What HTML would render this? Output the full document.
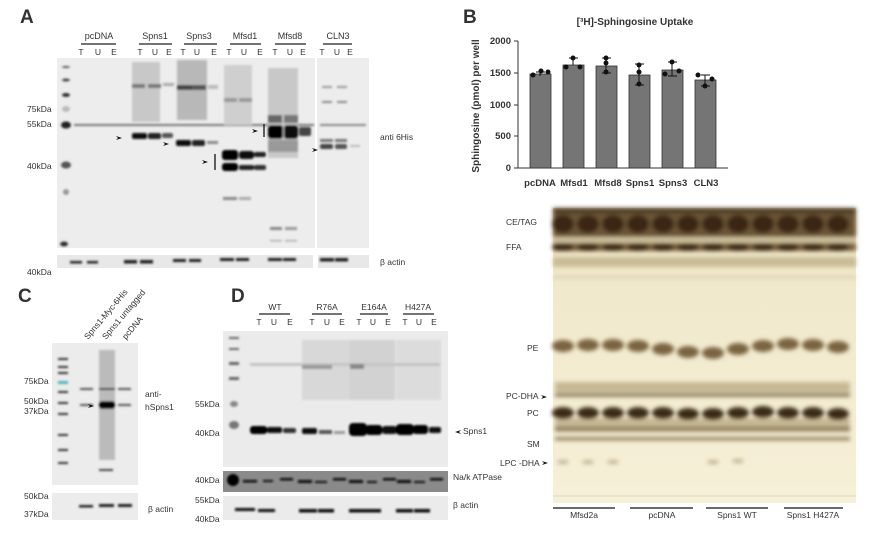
<!DOCTYPE html>
<html><head><meta charset="utf-8"><style>
html,body{margin:0;padding:0;background:#fff}
svg{display:block}
text{font-family:"Liberation Sans",sans-serif;fill:#333}
</style></head><body>
<svg width="870" height="534" viewBox="0 0 870 534" xmlns="http://www.w3.org/2000/svg">
<defs>
<filter id="b1" x="-50%" y="-50%" width="200%" height="200%"><feGaussianBlur stdDeviation="1"/></filter>
<filter id="b2" x="-50%" y="-50%" width="200%" height="200%"><feGaussianBlur stdDeviation="2"/></filter>
<linearGradient id="tlc" x1="0" y1="0" x2="0" y2="1">
<stop offset="0" stop-color="#e6dcbc"/><stop offset="0.2" stop-color="#f0e8ca"/><stop offset="1" stop-color="#f6f0d8"/></linearGradient>
</defs>

<!-- ===== Panel A ===== -->
<text x="20" y="23" font-size="19" font-weight="bold" fill="#111">A</text>
<g font-size="9" text-anchor="middle">
<text x="99" y="39">pcDNA</text><text x="155" y="39">Spns1</text><text x="199" y="39">Spns3</text>
<text x="245" y="39">Mfsd1</text><text x="290" y="39">Mfsd8</text><text x="338" y="39">CLN3</text>
</g>
<g stroke="#222" stroke-width="1.3">
<line x1="81" y1="44" x2="116" y2="44"/><line x1="139" y1="44" x2="172" y2="44"/><line x1="184" y1="44" x2="217" y2="44"/>
<line x1="230" y1="44" x2="261" y2="44"/><line x1="275" y1="44" x2="306" y2="44"/><line x1="323" y1="44" x2="352" y2="44"/>
</g>
<g font-size="8.5" text-anchor="middle">
<text x="81" y="55">T</text><text x="98" y="55">U</text><text x="114" y="55">E</text>
<text x="140" y="55">T</text><text x="155" y="55">U</text><text x="169" y="55">E</text>
<text x="183" y="55">T</text><text x="197" y="55">U</text><text x="214" y="55">E</text>
<text x="229" y="55">T</text><text x="244" y="55">U</text><text x="260" y="55">E</text>
<text x="275" y="55">T</text><text x="290" y="55">U</text><text x="303" y="55">E</text>
<text x="322" y="55">T</text><text x="337" y="55">U</text><text x="350" y="55">E</text>
</g>
<rect x="57" y="58" width="312" height="190" fill="#ededed"/>
<rect x="315" y="58" width="2" height="190" fill="#fff"/>
<g filter="url(#b1)">
<ellipse cx="66" cy="67" rx="4" ry="1" fill="#555"/><ellipse cx="66" cy="80" rx="4" ry="1.5" fill="#444"/>
<ellipse cx="66" cy="95" rx="4" ry="2" fill="#333"/><ellipse cx="66" cy="109" rx="4" ry="3" fill="#bbb"/>
<ellipse cx="66" cy="125" rx="5" ry="3.5" fill="#222"/><ellipse cx="66" cy="165" rx="5" ry="3.5" fill="#555"/>
<ellipse cx="66" cy="192" rx="3" ry="3" fill="#999"/><ellipse cx="64" cy="244" rx="4" ry="2.5" fill="#333"/>
<rect x="74" y="124" width="240" height="2" fill="#777"/><rect x="320" y="124" width="46" height="2" fill="#888"/>
<rect x="132" y="62" width="28" height="60" fill="#c8c8c8"/><rect x="177" y="60" width="30" height="60" fill="#b8b8b8"/>
<rect x="224" y="65" width="28" height="60" fill="#cfcfcf"/><rect x="268" y="68" width="30" height="90" fill="#c8c8c8"/>
<rect x="132" y="84" width="13" height="4" fill="#777"/><rect x="148" y="84" width="13" height="4" fill="#777"/><rect x="163" y="83" width="11" height="3" fill="#aaa"/>
<rect x="177" y="85" width="15" height="5" fill="#444"/><rect x="192" y="85" width="14" height="5" fill="#555"/><rect x="208" y="85" width="10" height="4" fill="#bbb"/>
<rect x="224" y="98" width="13" height="4" fill="#999"/><rect x="239" y="98" width="13" height="4" fill="#999"/>
<rect x="268" y="115" width="14" height="8" fill="#666"/><rect x="284" y="115" width="14" height="8" fill="#777"/>
<rect x="322" y="86" width="10" height="2" fill="#999"/><rect x="337" y="86" width="10" height="2" fill="#999"/>
<rect x="322" y="101" width="10" height="2" fill="#888"/><rect x="337" y="101" width="10" height="2" fill="#888"/>
<rect x="132" y="133" width="15" height="6" rx="2" fill="#111"/><rect x="148" y="133" width="13" height="6" rx="2" fill="#222"/><rect x="162" y="133" width="11" height="5" rx="2" fill="#555"/>
<rect x="176" y="140" width="15" height="6" rx="2" fill="#111"/><rect x="192" y="140" width="13" height="6" rx="2" fill="#222"/><rect x="207" y="141" width="11" height="3" fill="#888"/>
<rect x="222" y="150" width="16" height="10" rx="3" fill="#000"/><rect x="239" y="151" width="15" height="8" rx="3" fill="#111"/><rect x="254" y="152" width="12" height="5" rx="2" fill="#222"/>
<rect x="222" y="163" width="16" height="8" rx="3" fill="#000"/><rect x="239" y="165" width="15" height="5" rx="2" fill="#222"/><rect x="254" y="165" width="12" height="5" rx="2" fill="#333"/>
<rect x="223" y="197" width="14" height="3" fill="#888"/><rect x="239" y="197" width="12" height="3" fill="#aaa"/>
<rect x="268" y="125" width="15" height="14" rx="3" fill="#000"/><rect x="284" y="125" width="14" height="14" rx="3" fill="#111"/><rect x="299" y="127" width="12" height="9" rx="2" fill="#444"/>
<rect x="268" y="140" width="30" height="12" fill="#999"/>
<rect x="270" y="227" width="12" height="3" fill="#888"/><rect x="285" y="227" width="12" height="3" fill="#999"/>
<rect x="270" y="240" width="12" height="1.5" fill="#aaa"/><rect x="285" y="240" width="12" height="1.5" fill="#aaa"/>
<rect x="320" y="139" width="13" height="3" fill="#777"/><rect x="335" y="139" width="12" height="3" fill="#777"/>
<rect x="320" y="144" width="13" height="5" rx="2" fill="#444"/><rect x="335" y="144" width="12" height="5" rx="2" fill="#555"/><rect x="350" y="145" width="10" height="2" fill="#bbb"/>
</g>
<g fill="#111">
<path d="M116 136 l6 2 l-6 2 l2 -2z"/><path d="M163 142 l6 2 l-6 2 l2 -2z"/><path d="M202 160 l6 2 l-6 2 l2 -2z"/>
<path d="M252 129 l6 2 l-6 2 l2 -2z"/><path d="M312 148 l6 2 l-6 2 l2 -2z"/>
</g>
<line x1="215" y1="154" x2="215" y2="170" stroke="#111" stroke-width="1.3"/>
<line x1="264" y1="124" x2="264" y2="137" stroke="#111" stroke-width="1.3"/>
<g font-size="8.5"><text x="27" y="112">75kDa</text><text x="27" y="127">55kDa</text><text x="27" y="169">40kDa</text>
<text x="380" y="140">anti 6His</text><text x="380" y="265">β actin</text><text x="27" y="275">40kDa</text></g>
<rect x="57" y="255" width="256" height="13" fill="#e8e8e8"/><rect x="318" y="255" width="51" height="13" fill="#e8e8e8"/>
<g filter="url(#b1)" fill="#222">
<rect x="70" y="261" width="12" height="2.5"/><rect x="87" y="261" width="11" height="2.5"/>
<rect x="124" y="260" width="13" height="3.5"/><rect x="140" y="260" width="13" height="3.5"/>
<rect x="173" y="259" width="13" height="3"/><rect x="189" y="259" width="12" height="3"/>
<rect x="220" y="258" width="14" height="3"/><rect x="236" y="258" width="13" height="3"/>
<rect x="268" y="258" width="14" height="3"/><rect x="283" y="258" width="13" height="3"/>
<rect x="320" y="258" width="14" height="3.5"/><rect x="335" y="258" width="13" height="3.5"/>
</g>

<!-- ===== Panel B ===== -->
<text x="463" y="23" font-size="19" font-weight="bold" fill="#111">B</text>
<text x="635" y="25" font-size="10" font-weight="bold" text-anchor="middle" fill="#222">[³H]-Sphingosine Uptake</text>
<text transform="translate(479,106) rotate(-90)" font-size="10" font-weight="bold" text-anchor="middle" fill="#222">Sphingosine (pmol) per well</text>
<g stroke="#333" stroke-width="1">
<line x1="518" y1="41" x2="518" y2="168"/><line x1="518" y1="168" x2="728" y2="168"/>
<line x1="514" y1="41" x2="518" y2="41"/><line x1="514" y1="73" x2="518" y2="73"/><line x1="514" y1="105" x2="518" y2="105"/><line x1="514" y1="136" x2="518" y2="136"/><line x1="514" y1="168" x2="518" y2="168"/>
</g>
<g font-size="9.5" font-weight="bold" text-anchor="end" fill="#222">
<text x="511" y="44">2000</text><text x="511" y="76">1500</text><text x="511" y="108">1000</text><text x="511" y="139">500</text><text x="511" y="171">0</text></g>
<g fill="#757575" stroke="#333" stroke-width="0.8">
<rect x="530" y="74" width="21" height="94"/><rect x="563" y="65" width="21" height="103"/><rect x="596" y="66" width="21" height="102"/>
<rect x="629" y="75" width="21" height="93"/><rect x="662" y="70" width="21" height="98"/><rect x="695" y="80" width="21" height="88"/>
</g>
<g stroke="#111" stroke-width="1">
<line x1="540" y1="72" x2="540" y2="76"/><line x1="536" y1="72" x2="545" y2="72"/>
<line x1="573" y1="58" x2="573" y2="65"/><line x1="569" y1="58" x2="578" y2="58"/>
<line x1="606" y1="58" x2="606" y2="73"/><line x1="602" y1="58" x2="611" y2="58"/><line x1="602" y1="73" x2="611" y2="73"/>
<line x1="639" y1="64" x2="639" y2="85"/><line x1="635" y1="64" x2="644" y2="64"/><line x1="635" y1="85" x2="644" y2="85"/>
<line x1="672" y1="62" x2="672" y2="76"/><line x1="668" y1="62" x2="677" y2="62"/><line x1="668" y1="76" x2="677" y2="76"/>
<line x1="705" y1="75" x2="705" y2="86"/><line x1="701" y1="75" x2="710" y2="75"/><line x1="701" y1="86" x2="710" y2="86"/>
</g>
<g fill="#111">
<circle cx="533" cy="75" r="2.5"/><circle cx="541" cy="71" r="2.5"/><circle cx="548" cy="72" r="2.5"/>
<circle cx="566" cy="67" r="2.5"/><circle cx="573" cy="58" r="2.5"/><circle cx="580" cy="67" r="2.5"/>
<circle cx="606" cy="58" r="2.5"/><circle cx="606" cy="63" r="2.5"/><circle cx="606" cy="72" r="2.5"/>
<circle cx="639" cy="65" r="2.5"/><circle cx="639" cy="72" r="2.5"/><circle cx="639" cy="84" r="2.5"/>
<circle cx="665" cy="74" r="2.5"/><circle cx="672" cy="62" r="2.5"/><circle cx="679" cy="71" r="2.5"/>
<circle cx="698" cy="75" r="2.5"/><circle cx="712" cy="79" r="2.5"/><circle cx="705" cy="86" r="2.5"/>
</g>
<g font-size="9.5" font-weight="bold" text-anchor="middle" fill="#222">
<text x="540" y="186">pcDNA</text><text x="574" y="186">Mfsd1</text><text x="608" y="186">Mfsd8</text>
<text x="640" y="186">Spns1</text><text x="673" y="186">Spns3</text><text x="706" y="186">CLN3</text></g>

<!-- ===== Panel C ===== -->
<text x="18" y="302" font-size="19" font-weight="bold" fill="#111">C</text>
<g font-size="8.5">
<text transform="translate(88,340) rotate(-50)">Spns1-Myc-6His</text>
<text transform="translate(106,340) rotate(-50)">Spns1 untagged</text>
<text transform="translate(126,340) rotate(-50)">pcDNA</text>
<text x="24" y="384">75kDa</text><text x="24" y="404">50kDa</text><text x="24" y="414">37kDa</text>
<text x="145" y="397">anti-</text><text x="145" y="410">hSpns1</text>
<text x="24" y="499">50kDa</text><text x="24" y="517">37kDa</text><text x="148" y="512">β actin</text>
</g>
<rect x="52" y="343" width="86" height="142" fill="#ececec"/>
<g filter="url(#b1)">
<g fill="#333"><rect x="58" y="358" width="10" height="2"/><rect x="58" y="366" width="10" height="2"/><rect x="58" y="372" width="10" height="2"/><rect x="58" y="391" width="10" height="2"/><rect x="58" y="402" width="10" height="2"/><rect x="58" y="413" width="10" height="2"/><rect x="58" y="434" width="10" height="2"/><rect x="58" y="449" width="10" height="2"/><rect x="58" y="462" width="10" height="2"/></g>
<rect x="58" y="381" width="10" height="3" fill="#4bb8c8"/>
<rect x="99" y="350" width="16" height="110" fill="#bbb"/>
<rect x="80" y="388" width="13" height="2" fill="#555"/><rect x="99" y="388" width="16" height="2" fill="#333"/><rect x="118" y="388" width="13" height="2" fill="#555"/>
<rect x="80" y="404" width="13" height="2" fill="#555"/><rect x="118" y="404" width="13" height="2" fill="#555"/>
<rect x="99" y="401" width="16" height="8" rx="3" fill="#000"/>
<rect x="99" y="469" width="14" height="2" fill="#444"/>
</g>
<path d="M88 404 l6 2 l-6 2 l2 -2z" fill="#111"/>
<rect x="52" y="493" width="86" height="27" fill="#ececec"/>
<g fill="#222" filter="url(#b1)"><rect x="79" y="505" width="14" height="2.5"/><rect x="99" y="504" width="15" height="3"/><rect x="118" y="504" width="14" height="3"/></g>

<!-- ===== Panel D ===== -->
<text x="231" y="302" font-size="19" font-weight="bold" fill="#111">D</text>
<g font-size="8.5" text-anchor="middle">
<text x="275" y="310">WT</text><text x="327" y="310">R76A</text><text x="374" y="310">E164A</text><text x="418" y="310">H427A</text></g>
<g stroke="#222" stroke-width="1.3"><line x1="259" y1="314" x2="290" y2="314"/><line x1="312" y1="314" x2="342" y2="314"/><line x1="360" y1="314" x2="388" y2="314"/><line x1="403" y1="314" x2="434" y2="314"/></g>
<g font-size="8.5" text-anchor="middle">
<text x="259" y="325">T</text><text x="274" y="325">U</text><text x="290" y="325">E</text>
<text x="312" y="325">T</text><text x="327" y="325">U</text><text x="342" y="325">E</text>
<text x="359" y="325">T</text><text x="373" y="325">U</text><text x="388" y="325">E</text>
<text x="405" y="325">T</text><text x="419" y="325">U</text><text x="434" y="325">E</text></g>
<rect x="223" y="331" width="225" height="136" fill="#ebebeb"/>
<g filter="url(#b1)">
<g fill="#666"><rect x="229" y="337" width="10" height="2"/><rect x="229" y="348" width="10" height="2"/><rect x="229" y="362" width="10" height="3"/><rect x="229" y="377" width="10" height="3"/></g>
<ellipse cx="234" cy="404" rx="4" ry="3" fill="#888"/><ellipse cx="234" cy="425" rx="5" ry="4" fill="#777"/>
<rect x="302" y="340" width="48" height="60" fill="#d8d8d8"/><rect x="350" y="340" width="45" height="60" fill="#d2d2d2"/><rect x="396" y="340" width="45" height="60" fill="#dcdcdc"/>
<rect x="250" y="363" width="190" height="3" fill="#c4c4c4"/>
<rect x="302" y="365" width="30" height="4" fill="#999"/><rect x="350" y="364" width="14" height="5" fill="#888"/>
<rect x="250" y="426" width="17" height="8" rx="3" fill="#000"/><rect x="267" y="427" width="15" height="6" rx="2" fill="#111"/><rect x="283" y="428" width="13" height="5" rx="2" fill="#333"/>
<rect x="302" y="428" width="15" height="6" rx="2" fill="#111"/><rect x="319" y="430" width="13" height="4" fill="#555"/><rect x="334" y="431" width="11" height="3" fill="#999"/>
<rect x="349" y="423" width="18" height="13" rx="4" fill="#000"/><rect x="366" y="425" width="16" height="10" rx="3" fill="#000"/><rect x="382" y="426" width="15" height="8" rx="3" fill="#111"/>
<rect x="396" y="424" width="18" height="11" rx="4" fill="#000"/><rect x="413" y="425" width="15" height="9" rx="3" fill="#000"/><rect x="429" y="427" width="12" height="6" rx="2" fill="#111"/>
</g>
<path d="M461 430 l-6 2 l6 2 l-2 -2z" fill="#111"/>
<g font-size="8.5"><text x="463" y="434">Spns1</text><text x="195" y="407">55kDa</text><text x="195" y="436">40kDa</text>
<text x="195" y="483">40kDa</text><text x="453" y="480">Na/k ATPase</text>
<text x="195" y="503">55kDa</text><text x="195" y="522">40kDa</text><text x="453" y="508">β actin</text></g>
<rect x="223" y="471" width="225" height="21" fill="#8a8a8a"/>
<g filter="url(#b1)" fill="#111">
<ellipse cx="233" cy="480" rx="6" ry="6" fill="#000"/>
<rect x="243" y="480" width="14" height="2.5"/><rect x="263" y="480" width="10" height="2"/><rect x="280" y="478" width="13" height="2.5"/>
<rect x="298" y="480" width="14" height="3"/><rect x="315" y="481" width="12" height="2"/><rect x="333" y="478" width="13" height="2.5"/>
<rect x="349" y="480" width="14" height="3"/><rect x="367" y="481" width="10" height="2"/><rect x="383" y="478" width="13" height="2.5"/>
<rect x="397" y="480" width="14" height="3"/><rect x="414" y="481" width="11" height="2"/><rect x="430" y="478" width="13" height="2.5"/>
</g>
<rect x="223" y="496" width="225" height="24" fill="#ebebeb"/>
<g filter="url(#b1)" fill="#111">
<rect x="235" y="508" width="20" height="3"/><rect x="258" y="509" width="17" height="3"/>
<rect x="299" y="509" width="18" height="3.5"/><rect x="318" y="509" width="16" height="3.5"/>
<rect x="349" y="509" width="17" height="3.5"/><rect x="366" y="509" width="15" height="3.5"/>
<rect x="396" y="509" width="17" height="3.5"/><rect x="414" y="509" width="16" height="3.5"/>
</g>

<!-- ===== Panel E ===== -->
<text x="682" y="225" font-size="19" font-weight="bold" fill="#111">E</text>
<rect x="553" y="208" width="303" height="295" fill="url(#tlc)"/>
<g filter="url(#b2)">
<rect x="553" y="208" width="303" height="8" fill="#4a3820"/>
<rect x="553" y="213" width="303" height="24" fill="#6a5535"/>
<g fill="#3a2812">
<ellipse cx="563" cy="224" rx="11" ry="9"/><ellipse cx="588" cy="224" rx="11" ry="9"/><ellipse cx="613" cy="224" rx="11" ry="9"/>
<ellipse cx="638" cy="224" rx="11" ry="9"/><ellipse cx="663" cy="224" rx="11" ry="9"/><ellipse cx="688" cy="224" rx="11" ry="9"/>
<ellipse cx="713" cy="224" rx="11" ry="9"/><ellipse cx="738" cy="224" rx="11" ry="9"/><ellipse cx="763" cy="224" rx="11" ry="9"/>
<ellipse cx="788" cy="224" rx="11" ry="9"/><ellipse cx="813" cy="224" rx="11" ry="9"/><ellipse cx="838" cy="224" rx="11" ry="9"/>
</g>
<rect x="553" y="238" width="303" height="4" fill="#c8b890"/>
<rect x="553" y="243" width="303" height="8" fill="#7a6440"/>
<g fill="#3e2c14">
<ellipse cx="563" cy="247" rx="11" ry="4"/><ellipse cx="588" cy="247" rx="11" ry="4"/><ellipse cx="613" cy="247" rx="11" ry="4"/>
<ellipse cx="638" cy="247" rx="11" ry="4"/><ellipse cx="663" cy="247" rx="11" ry="4"/><ellipse cx="688" cy="247" rx="11" ry="4"/>
<ellipse cx="713" cy="247" rx="11" ry="4"/><ellipse cx="738" cy="247" rx="11" ry="4"/><ellipse cx="763" cy="247" rx="11" ry="4"/>
<ellipse cx="788" cy="247" rx="11" ry="4"/><ellipse cx="813" cy="247" rx="11" ry="4"/><ellipse cx="838" cy="247" rx="11" ry="4"/>
</g>
<rect x="553" y="257" width="303" height="10" fill="#c0b088" opacity="0.8"/>
<rect x="553" y="275" width="303" height="4" fill="#d8ccaa" opacity="0.6"/>
<g fill="#7a6440">
<ellipse cx="563" cy="346" rx="11" ry="6"/><ellipse cx="588" cy="345" rx="11" ry="6"/><ellipse cx="613" cy="345" rx="11" ry="6"/>
<ellipse cx="638" cy="346" rx="11" ry="6"/><ellipse cx="663" cy="349" rx="11" ry="6"/><ellipse cx="688" cy="352" rx="11" ry="6"/>
<ellipse cx="713" cy="353" rx="11" ry="6"/><ellipse cx="738" cy="349" rx="11" ry="6"/><ellipse cx="763" cy="346" rx="11" ry="6"/>
<ellipse cx="788" cy="344" rx="11" ry="6"/><ellipse cx="813" cy="345" rx="11" ry="6"/><ellipse cx="838" cy="347" rx="11" ry="6"/>
</g>
<g fill="#b4a27a" opacity="0.7">
<rect x="555" y="382" width="295" height="10"/><rect x="555" y="418" width="295" height="14"/></g>
<g fill="#3a2a12">
<ellipse cx="563" cy="413" rx="11" ry="6"/><ellipse cx="588" cy="413" rx="11" ry="6"/><ellipse cx="613" cy="413" rx="11" ry="6"/>
<ellipse cx="638" cy="413" rx="11" ry="6"/><ellipse cx="663" cy="413" rx="11" ry="6"/><ellipse cx="688" cy="414" rx="11" ry="6"/>
<ellipse cx="713" cy="414" rx="11" ry="6"/><ellipse cx="738" cy="413" rx="11" ry="6"/><ellipse cx="763" cy="412" rx="11" ry="6"/>
<ellipse cx="788" cy="413" rx="11" ry="6"/><ellipse cx="813" cy="413" rx="11" ry="6"/><ellipse cx="838" cy="414" rx="11" ry="6"/>
</g>
<g fill="#7a6845" opacity="0.8">
<rect x="555" y="393" width="295" height="4"/><rect x="555" y="427" width="295" height="4"/><rect x="555" y="437" width="295" height="3.5"/></g>
<g fill="#a89670" opacity="0.7">
<ellipse cx="563" cy="462" rx="6" ry="2"/><ellipse cx="588" cy="462" rx="6" ry="2"/><ellipse cx="613" cy="462" rx="6" ry="2"/><ellipse cx="713" cy="462" rx="6" ry="2"/><ellipse cx="738" cy="461" rx="6" ry="2"/></g>
</g>
<line x1="553" y1="496" x2="856" y2="496" stroke="#c8bd9c" stroke-width="0.6"/>
<g font-size="8.5">
<text x="506" y="225">CE/TAG</text><text x="506" y="250">FFA</text><text x="527" y="351">PE</text>
<text x="506" y="399">PC-DHA</text><text x="527" y="416">PC</text><text x="527" y="447">SM</text><text x="500" y="466">LPC -DHA</text></g>
<path d="M541 395 l6 2 l-6 2 l2 -2z" fill="#111"/><path d="M542 461 l6 2 l-6 2 l2 -2z" fill="#111"/>
<g stroke="#111" stroke-width="1.3"><line x1="553" y1="508" x2="615" y2="508"/><line x1="630" y1="508" x2="693" y2="508"/><line x1="706" y1="508" x2="768" y2="508"/><line x1="784" y1="508" x2="843" y2="508"/></g>
<g font-size="8.5" text-anchor="middle"><text x="584" y="518">Mfsd2a</text><text x="662" y="518">pcDNA</text><text x="737" y="518">Spns1 WT</text><text x="813" y="518">Spns1 H427A</text></g>
</svg>
</body></html>
